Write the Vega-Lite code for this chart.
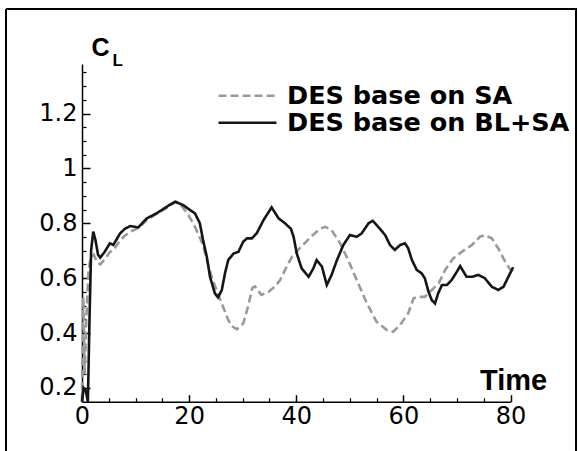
{
  "$schema": "https://vega.github.io/schema/vega-lite/v6.json",
  "autosize": "none",
  "width": 570,
  "height": 442,
  "padding": {"left": 6, "top": 9, "right": 2, "bottom": 0},
  "background": "white",
  "config": {
    "view": {"stroke": "black", "strokeWidth": 2, "fill": "white", "strokeDash": [1012, 570, 442, 0]},
    "axis": {"grid": false, "domainColor": "black", "tickColor": "black", "labelColor": "black", "titleColor": "black"}
  },
  "data": {"values": [
    {"s":"DES base on SA","t":0,"v":0.15},{"s":"DES base on SA","t":0.25,"v":0.53},{"s":"DES base on SA","t":0.5,"v":0.25},{"s":"DES base on SA","t":0.8,"v":0.45},{"s":"DES base on SA","t":1.2,"v":0.62},{"s":"DES base on SA","t":1.6,"v":0.675},{"s":"DES base on SA","t":2.2,"v":0.685},{"s":"DES base on SA","t":2.8,"v":0.66},{"s":"DES base on SA","t":3.4,"v":0.65},{"s":"DES base on SA","t":4.3,"v":0.67},{"s":"DES base on SA","t":5.2,"v":0.695},{"s":"DES base on SA","t":6.0,"v":0.705},{"s":"DES base on SA","t":7.0,"v":0.735},{"s":"DES base on SA","t":8.0,"v":0.755},{"s":"DES base on SA","t":9.0,"v":0.77},{"s":"DES base on SA","t":10.0,"v":0.778},{"s":"DES base on SA","t":11.0,"v":0.79},{"s":"DES base on SA","t":12.1,"v":0.812},{"s":"DES base on SA","t":13.9,"v":0.834},{"s":"DES base on SA","t":15.8,"v":0.856},{"s":"DES base on SA","t":17.4,"v":0.877},{"s":"DES base on SA","t":18.4,"v":0.868},{"s":"DES base on SA","t":19.2,"v":0.848},{"s":"DES base on SA","t":20.0,"v":0.825},{"s":"DES base on SA","t":21.1,"v":0.787},{"s":"DES base on SA","t":22.6,"v":0.721},{"s":"DES base on SA","t":23.4,"v":0.66},{"s":"DES base on SA","t":24.2,"v":0.605},{"s":"DES base on SA","t":25.1,"v":0.557},{"s":"DES base on SA","t":26.1,"v":0.508},{"s":"DES base on SA","t":27.3,"v":0.448},{"s":"DES base on SA","t":28.0,"v":0.425},{"s":"DES base on SA","t":28.9,"v":0.414},{"s":"DES base on SA","t":30.1,"v":0.435},{"s":"DES base on SA","t":31.0,"v":0.496},{"s":"DES base on SA","t":31.8,"v":0.565},{"s":"DES base on SA","t":32.3,"v":0.57},{"s":"DES base on SA","t":33.5,"v":0.539},{"s":"DES base on SA","t":34.8,"v":0.55},{"s":"DES base on SA","t":36.0,"v":0.569},{"s":"DES base on SA","t":37.0,"v":0.593},{"s":"DES base on SA","t":37.9,"v":0.63},{"s":"DES base on SA","t":39.2,"v":0.678},{"s":"DES base on SA","t":40.7,"v":0.71},{"s":"DES base on SA","t":42.6,"v":0.748},{"s":"DES base on SA","t":44.4,"v":0.78},{"s":"DES base on SA","t":45.4,"v":0.787},{"s":"DES base on SA","t":46.6,"v":0.775},{"s":"DES base on SA","t":48.2,"v":0.727},{"s":"DES base on SA","t":49.7,"v":0.666},{"s":"DES base on SA","t":51.3,"v":0.593},{"s":"DES base on SA","t":53.2,"v":0.508},{"s":"DES base on SA","t":55.0,"v":0.441},{"s":"DES base on SA","t":56.9,"v":0.411},{"s":"DES base on SA","t":58.1,"v":0.405},{"s":"DES base on SA","t":59.4,"v":0.43},{"s":"DES base on SA","t":60.9,"v":0.472},{"s":"DES base on SA","t":61.9,"v":0.527},{"s":"DES base on SA","t":62.8,"v":0.532},{"s":"DES base on SA","t":64.0,"v":0.532},{"s":"DES base on SA","t":65.3,"v":0.557},{"s":"DES base on SA","t":66.6,"v":0.581},{"s":"DES base on SA","t":67.8,"v":0.63},{"s":"DES base on SA","t":69.3,"v":0.672},{"s":"DES base on SA","t":70.9,"v":0.696},{"s":"DES base on SA","t":72.8,"v":0.721},{"s":"DES base on SA","t":74.3,"v":0.751},{"s":"DES base on SA","t":75.2,"v":0.757},{"s":"DES base on SA","t":76.5,"v":0.745},{"s":"DES base on SA","t":77.7,"v":0.709},{"s":"DES base on SA","t":79.0,"v":0.66},{"s":"DES base on SA","t":80.0,"v":0.63},
    {"s":"DES base on BL+SA","t":0,"v":0.15},{"s":"DES base on BL+SA","t":0.3,"v":0.2},{"s":"DES base on BL+SA","t":0.7,"v":0.19},{"s":"DES base on BL+SA","t":1.1,"v":0.15},{"s":"DES base on BL+SA","t":1.4,"v":0.45},{"s":"DES base on BL+SA","t":1.7,"v":0.7},{"s":"DES base on BL+SA","t":2.1,"v":0.77},{"s":"DES base on BL+SA","t":2.5,"v":0.74},{"s":"DES base on BL+SA","t":3.0,"v":0.685},{"s":"DES base on BL+SA","t":3.4,"v":0.675},{"s":"DES base on BL+SA","t":4.2,"v":0.695},{"s":"DES base on BL+SA","t":5.2,"v":0.727},{"s":"DES base on BL+SA","t":5.85,"v":0.721},{"s":"DES base on BL+SA","t":7.1,"v":0.763},{"s":"DES base on BL+SA","t":8.0,"v":0.78},{"s":"DES base on BL+SA","t":9.0,"v":0.79},{"s":"DES base on BL+SA","t":10.5,"v":0.785},{"s":"DES base on BL+SA","t":12.1,"v":0.818},{"s":"DES base on BL+SA","t":13.9,"v":0.836},{"s":"DES base on BL+SA","t":15.8,"v":0.86},{"s":"DES base on BL+SA","t":17.4,"v":0.879},{"s":"DES base on BL+SA","t":18.9,"v":0.866},{"s":"DES base on BL+SA","t":20.2,"v":0.848},{"s":"DES base on BL+SA","t":21.1,"v":0.836},{"s":"DES base on BL+SA","t":22.0,"v":0.8},{"s":"DES base on BL+SA","t":22.6,"v":0.739},{"s":"DES base on BL+SA","t":23.3,"v":0.678},{"s":"DES base on BL+SA","t":23.9,"v":0.605},{"s":"DES base on BL+SA","t":24.8,"v":0.545},{"s":"DES base on BL+SA","t":25.4,"v":0.53},{"s":"DES base on BL+SA","t":26.1,"v":0.557},{"s":"DES base on BL+SA","t":26.7,"v":0.618},{"s":"DES base on BL+SA","t":27.3,"v":0.666},{"s":"DES base on BL+SA","t":28.3,"v":0.69},{"s":"DES base on BL+SA","t":29.2,"v":0.696},{"s":"DES base on BL+SA","t":30.1,"v":0.733},{"s":"DES base on BL+SA","t":30.8,"v":0.745},{"s":"DES base on BL+SA","t":31.7,"v":0.745},{"s":"DES base on BL+SA","t":32.6,"v":0.763},{"s":"DES base on BL+SA","t":33.9,"v":0.812},{"s":"DES base on BL+SA","t":35.4,"v":0.858},{"s":"DES base on BL+SA","t":36.7,"v":0.818},{"s":"DES base on BL+SA","t":37.9,"v":0.8},{"s":"DES base on BL+SA","t":39.0,"v":0.78},{"s":"DES base on BL+SA","t":39.5,"v":0.751},{"s":"DES base on BL+SA","t":40.1,"v":0.69},{"s":"DES base on BL+SA","t":41.0,"v":0.636},{"s":"DES base on BL+SA","t":42.3,"v":0.605},{"s":"DES base on BL+SA","t":43.2,"v":0.636},{"s":"DES base on BL+SA","t":43.8,"v":0.666},{"s":"DES base on BL+SA","t":44.8,"v":0.642},{"s":"DES base on BL+SA","t":45.7,"v":0.575},{"s":"DES base on BL+SA","t":46.6,"v":0.612},{"s":"DES base on BL+SA","t":47.6,"v":0.666},{"s":"DES base on BL+SA","t":48.8,"v":0.721},{"s":"DES base on BL+SA","t":50.0,"v":0.757},{"s":"DES base on BL+SA","t":51.3,"v":0.751},{"s":"DES base on BL+SA","t":52.2,"v":0.763},{"s":"DES base on BL+SA","t":53.5,"v":0.8},{"s":"DES base on BL+SA","t":54.3,"v":0.809},{"s":"DES base on BL+SA","t":55.3,"v":0.787},{"s":"DES base on BL+SA","t":56.6,"v":0.757},{"s":"DES base on BL+SA","t":57.5,"v":0.721},{"s":"DES base on BL+SA","t":58.4,"v":0.703},{"s":"DES base on BL+SA","t":59.4,"v":0.721},{"s":"DES base on BL+SA","t":60.3,"v":0.727},{"s":"DES base on BL+SA","t":60.9,"v":0.709},{"s":"DES base on BL+SA","t":61.6,"v":0.666},{"s":"DES base on BL+SA","t":62.5,"v":0.63},{"s":"DES base on BL+SA","t":63.4,"v":0.618},{"s":"DES base on BL+SA","t":64.0,"v":0.6},{"s":"DES base on BL+SA","t":64.7,"v":0.55},{"s":"DES base on BL+SA","t":65.3,"v":0.52},{"s":"DES base on BL+SA","t":65.9,"v":0.508},{"s":"DES base on BL+SA","t":66.5,"v":0.545},{"s":"DES base on BL+SA","t":67.2,"v":0.575},{"s":"DES base on BL+SA","t":68.1,"v":0.575},{"s":"DES base on BL+SA","t":69.0,"v":0.593},{"s":"DES base on BL+SA","t":70.0,"v":0.624},{"s":"DES base on BL+SA","t":70.6,"v":0.644},{"s":"DES base on BL+SA","t":71.8,"v":0.605},{"s":"DES base on BL+SA","t":72.8,"v":0.605},{"s":"DES base on BL+SA","t":74.0,"v":0.612},{"s":"DES base on BL+SA","t":75.2,"v":0.6},{"s":"DES base on BL+SA","t":76.5,"v":0.569},{"s":"DES base on BL+SA","t":77.7,"v":0.557},{"s":"DES base on BL+SA","t":78.7,"v":0.569},{"s":"DES base on BL+SA","t":79.6,"v":0.605},{"s":"DES base on BL+SA","t":80.5,"v":0.64}
  ]},
  "layer": [
    {
      "mark": {"type": "line", "strokeWidth": 2.6, "clip": false},
      "encoding": {
        "x": {"field": "t", "type": "quantitative",
          "scale": {"domain": [0, 80], "range": [76, 504.5], "nice": false, "zero": false},
          "axis": {"orient": "bottom", "values": [0, 20, 40, 60, 80], "offset": -49.3, "tickSize": -7, "tickWidth": 1.5, "domainWidth": 1.5,
            "labelFont": "DejaVu Sans", "labelFontSize": 24, "labelPadding": 10, "labelFlush": false,
            "title": "Time", "titleFont": "Liberation Sans", "titleFontWeight": "bold", "titleFontSize": 29,
            "titleX": 473.5, "titleY": -12.4, "titleAlign": "left", "titleBaseline": "alphabetic", "titleAnchor": null}},
        "y": {"field": "v", "type": "quantitative",
          "scale": {"domain": [0.15, 1.38], "range": [392.7, 55.1], "nice": false, "zero": false},
          "axis": {"orient": "left", "values": [0.2, 0.4, 0.6, 0.8, 1, 1.2], "format": "~g", "offset": -76, "tickSize": -8, "tickWidth": 1.5, "domainWidth": 1.5,
            "labelFont": "DejaVu Sans", "labelFontSize": 24, "labelPadding": 13, "labelFlush": false,
            "title": "C", "titleFont": "Liberation Sans", "titleFontWeight": "bold", "titleFontSize": 25, "titleAngle": 0,
            "titleX": 9, "titleY": 46, "titleAlign": "left", "titleBaseline": "alphabetic", "titleAnchor": null}},
        "color": {"field": "s", "type": "nominal",
          "scale": {"domain": ["DES base on SA", "DES base on BL+SA"], "range": ["#9a9a9a", "#151515"]},
          "legend": {"title": null, "orient": "none", "legendX": 211, "legendY": 73.5, "padding": 0, "symbolType": "stroke", "symbolSize": 3364, "symbolStrokeWidth": 2.5, "labelOffset": 9, "labelFont": "DejaVu Sans", "labelFontWeight": "bold", "labelFontSize": 25.5, "labelColor": "black", "rowPadding": 0, "clipHeight": 26.5, "labelLimit": 400}},
        "strokeDash": {"field": "s", "type": "nominal",
          "scale": {"domain": ["DES base on SA", "DES base on BL+SA"], "range": [[8, 4], [1, 0]]},
          "legend": {"title": null, "orient": "none", "legendX": 211, "legendY": 73.5, "padding": 0, "symbolType": "stroke", "symbolSize": 3364, "symbolStrokeWidth": 2.5, "labelOffset": 9, "labelFont": "DejaVu Sans", "labelFontWeight": "bold", "labelFontSize": 25.5, "labelColor": "black", "rowPadding": 0, "clipHeight": 26.5, "labelLimit": 400}}
      }
    },
    {
      "mark": {"type": "line", "opacity": 0, "clip": false},
      "encoding": {
        "x": {"field": "t", "type": "quantitative",
          "axis": {"orient": "bottom", "values": [5, 10, 15, 25, 30, 35, 45, 50, 55, 65, 70, 75], "offset": -49.3, "tickSize": -4, "tickWidth": 1.2, "domain": false, "labels": false, "title": null}},
        "y": {"field": "v", "type": "quantitative",
          "axis": {"orient": "left", "values": [0.25, 0.3, 0.35, 0.45, 0.5, 0.55, 0.65, 0.7, 0.75, 0.85, 0.9, 0.95, 1.05, 1.1, 1.15, 1.25, 1.3, 1.35], "offset": -76, "tickSize": -4, "tickWidth": 1.2, "domain": false, "labels": false,
            "title": "L", "titleFont": "Liberation Sans", "titleFontWeight": "bold", "titleFontSize": 17, "titleAngle": 0,
            "titleX": 30, "titleY": 56, "titleAlign": "left", "titleBaseline": "alphabetic", "titleAnchor": null}},
        "detail": {"field": "s", "type": "nominal"}
      }
    }
  ],
  "resolve": {"axis": {"x": "independent", "y": "independent"}}
}
